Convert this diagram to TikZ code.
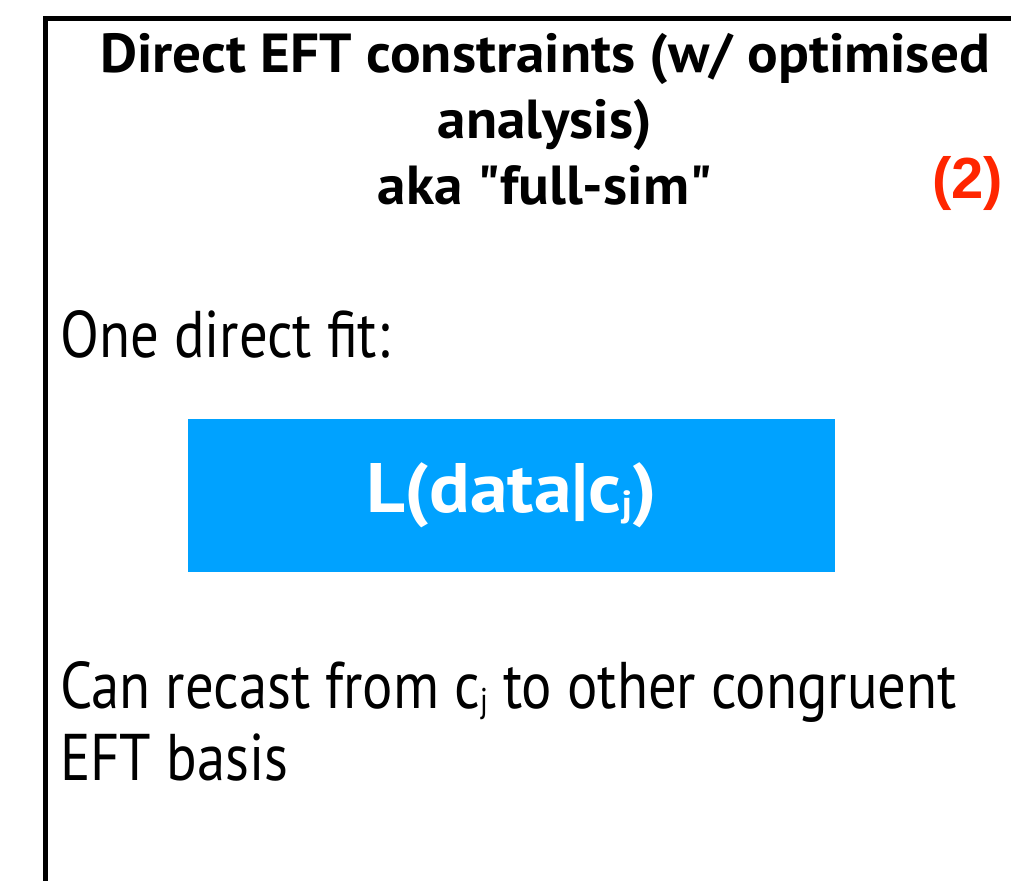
\documentclass[tikz,border=0pt]{standalone}
\usepackage{fontspec}
\usepackage{graphicx}
\setmainfont{PT Sans}
\newfontfamily\bodyfont{PT Sans}[FakeStretch=0.86]
\newfontfamily\headfont{PT Sans Bold}[FakeStretch=1.04, Ligatures=TeXOff]
\newfontfamily\likefont{PT Sans Bold}[FakeStretch=1.08]
\newfontfamily\tagfont{Liberation Sans Bold}
\definecolor{fitblue}{RGB}{0,162,255}
\definecolor{tagred}{RGB}{255,38,0}
% small lowered index letter
\newcommand{\idx}[1]{\raisebox{-0.06em}{\scalebox{0.52}{#1}}}
\tikzstyle{heading} = [font=\headfont\fontsize{55}{66}\selectfont, align=center, inner sep=0]
\tikzstyle{body} = [font=\bodyfont\fontsize{66}{72}\selectfont, align=left, inner sep=0]
\tikzstyle{likebox} = [fill=fitblue, text=white, minimum width=647pt, minimum height=153pt,
  inner sep=0, font=\likefont\fontsize{70}{80}\selectfont]
\tikzset{frame/.style={line width=5pt, black}}

\begin{document}
\begin{tikzpicture}[x=1pt, y=-1pt]
  \useasboundingbox (0,0) rectangle (1011,880);
  \clip (0,0) rectangle (1011,880);
  % Panel frame, running off the right and bottom
  \draw[frame] (45,1000) -- (45,18.5) -- (1100,18.5);
  % Heading and tag
  \node[heading, anchor=north] (title) at (545,33)
    {Direct EFT constraints (w/ optimised\\ analysis)\\ aka "full-sim"};
  \node[font=\tagfont\fontsize{58}{60}\selectfont, text=tagred, inner sep=0] (tag) at (967.5,183.5) {(2)};
  % Fit
  \node[body, anchor=base west] (fit) at (60,357) {One direct fit:};
  \node[likebox] (like) at (511.5,495.5) {L(data|c\idx{j})};
  % Recasting
  \node[body, anchor=north west] (recast) at (60,661)
    {Can recast from c\idx{j} to other congruent\\ EFT basis};
\end{tikzpicture}
\end{document}
